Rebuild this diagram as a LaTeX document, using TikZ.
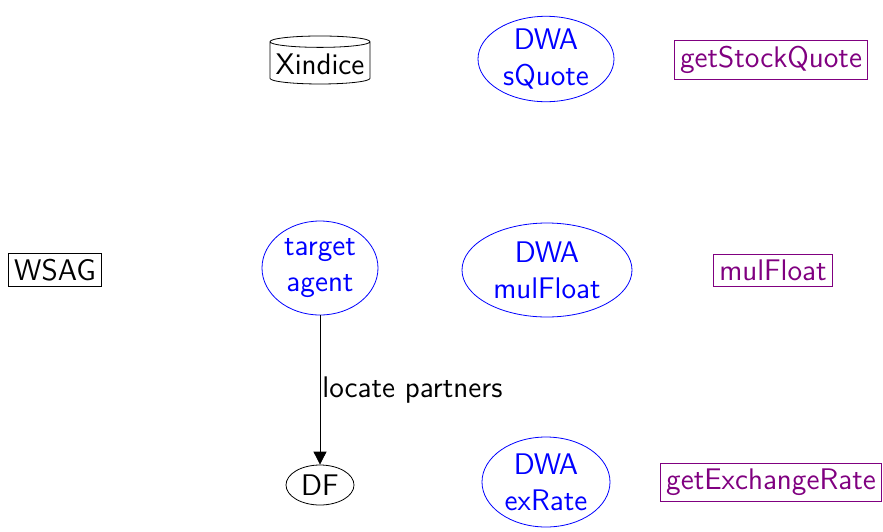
\documentclass[tikz,border=0pt]{standalone}
\usetikzlibrary{shapes.geometric,arrows.meta}

\definecolor{dwablue}{RGB}{0,0,255}
\definecolor{wspurple}{RGB}{128,0,128}

\tikzset{
  every node/.style={font=\sffamily\fontsize{14.9}{18}\selectfont},
  box/.style={draw, inner sep=2.8pt},
  wsbox/.style={box, draw=wspurple, text=wspurple},
  agent/.style={ellipse, draw=dwablue, text=dwablue, align=center, inner sep=0pt},
  store/.style={cylinder, shape border rotate=90, draw, aspect=0.12,
    minimum width=50pt, minimum height=24pt, inner sep=1.5pt},
}

\begin{document}
\begin{tikzpicture}[x=0.5pt, y=-0.5pt]

\useasboundingbox (0,0) rectangle (883,531);

% Columns
\def\colA{55}
\def\colB{320}
\def\colC{546}
\def\colD{771}

% Top row
\node[store] (xindice) at (\colB, 64) {Xindice};
\node[agent, minimum width=68pt, minimum height=42pt] (squote) at (\colC, 59) {DWA\\sQuote};
\node[wsbox] (stockquote) at (\colD, 60) {getStockQuote};

% Middle row
\node[box] (wsag) at (\colA, 270) {WSAG};
\node[agent, minimum width=58pt, minimum height=47pt] (target) at (\colB, 268) {target\\agent};
\node[agent, minimum width=85pt, minimum height=47pt] (mulfloat) at (\colC+1, 270) {DWA\\mulFloat};
\node[wsbox] (mulfloatws) at (\colD+2, 270) {mulFloat};

% Bottom row
\node[ellipse, draw, inner sep=0pt, minimum width=34pt, minimum height=20pt] (df) at (\colB, 485) {DF};
\node[agent, minimum width=64pt, minimum height=45pt] (exrate) at (\colC, 482) {DWA\\exRate};
\node[wsbox] (exchangerate) at (\colD, 482) {getExchangeRate};

% Lookup
\draw[-{Triangle[width=6.5pt,length=6.5pt]}] (target) to node[right, inner sep=1pt] {locate partners} (df);

\end{tikzpicture}
\end{document}
